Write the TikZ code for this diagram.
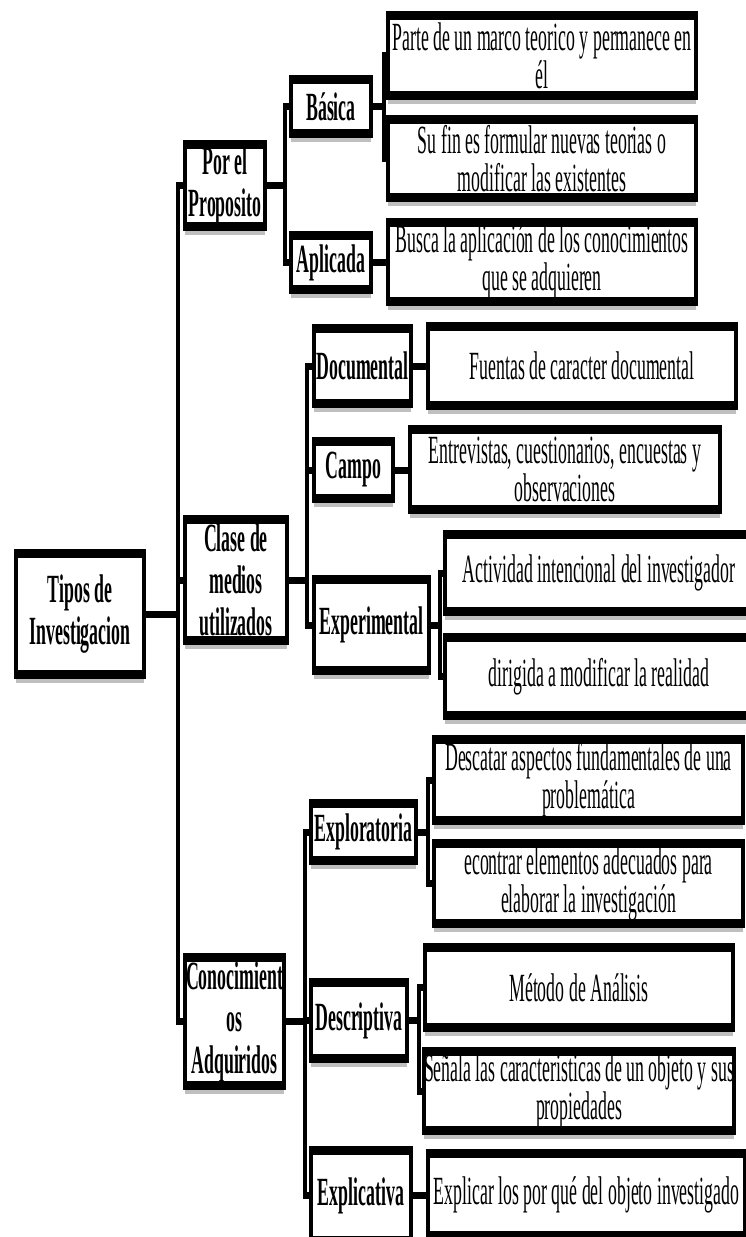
\documentclass[tikz,border=0pt]{standalone}
\usepackage{fontspec}
\setmainfont{Liberation Serif}
\usetikzlibrary{shadows}
\begin{document}
\begin{tikzpicture}[x=1pt,y=-1pt]
\useasboundingbox (0,0) rectangle (746,1237);
\clip (0,0) rectangle (746,1237);
% the whole chart is set in narrow type: everything is squeezed horizontally
\begin{scope}[transform canvas={xscale=0.445}, x=2.24719pt, y=-1pt,
  box/.style={draw=black, line width=9pt, fill=white, inner xsep=1pt, inner ysep=0pt,
    align=center, line join=miter,
    drop shadow={shadow xshift=0pt, shadow yshift=-8pt, opacity=0.25, fill=black}},
  sz/.style 2 args={minimum width={#1/0.445-9}, minimum height={#2-9}},
  cat/.style={box, font=\fontsize{40}{42}\selectfont\bfseries},
  leaf/.style={box, font=\fontsize{40}{38}\selectfont},
  conn/.style={line width=7pt, line join=miter}]

% root and first level
\node[cat, sz={132}{130}] (root)  at (80,614)     {Tipos de\\Investigacion};
\node[cat, sz={84}{91}]   (prop)  at (225,185.5)  {Por el\\Proposito};
\node[cat, sz={106}{130}] (clase) at (236,580)    {Clase de\\medios\\utilizados};
\node[cat, sz={103}{137}] (conoc) at (234.5,1021.5) {Conocimient\\os\\Adquiridos};

% second level
\node[cat, sz={84}{63}]   (basica) at (331,106.5)  {Básica};
\node[cat, sz={84}{63}]   (aplic)  at (331,262.5)  {Aplicada};
\node[cat, sz={101}{84}]  (docu)   at (362.5,366)  {Documental};
\node[cat, sz={83}{66}]   (campo)  at (353.5,470)  {Campo};
\node[cat, sz={119}{100}] (exper)  at (371.5,625)  {Experimental};
\node[cat, sz={109}{66}]  (explo)  at (363.5,832)  {Exploratoria};
\node[cat, sz={100}{85}]  (descr)  at (359,1020.5) {Descriptiva};
\node[cat, sz={104}{99}]  (expli)  at (361,1195.5) {Explicativa};

% descriptions
\node[leaf, sz={312}{89}] (l1)  at (542,55.5)   {Parte de un marco teorico y permanece en\\él};
\node[leaf, sz={312}{87}] (l2)  at (542,158.5)  {Su fin es formular nuevas teorias o\\modificar las existentes};
\node[leaf, sz={312}{88}] (l3)  at (542,262)    {Busca la aplicación de los conocimientos\\que se adquieren};
\node[leaf, sz={312}{88}] (l4)  at (582,366)    {Fuentas de caracter documental};
\node[leaf, sz={314}{89}] (l5)  at (565,469.5)  {Entrevistas, cuestionarios, encuestas y\\observaciones};
\node[leaf, sz={312}{86}] (l6)  at (599,573)    {Actividad intencional del investigador};
\node[leaf, sz={312}{87}] (l7)  at (599,676.5)  {dirigida a modificar la realidad};
\node[leaf, sz={313}{90}] (l8)  at (588.5,780)  {Descatar aspectos fundamentales de una\\problemática};
\node[leaf, sz={313}{89}] (l9)  at (588.5,883.5) {econtrar elementos adecuados para\\elaborar la investigación};
\node[leaf, sz={312}{89}] (l10) at (579,987.5)  {Método de Análisis};
\node[leaf, sz={312}{88}] (l11) at (579,1091)   {Señala las caracteristicas de un objeto y sus\\propiedades};
\node[leaf, sz={321}{91}] (l12) at (586.5,1194.5) {Explicar los por qué del objeto investigado};

% connectors
\draw[conn] (root.east) -- ++(32,0) coordinate (jr);
\draw[conn] (jr) |- (prop.west);
\draw[conn] (jr) |- (clase.west);
\draw[conn] (jr) |- (conoc.west);

\draw[conn] (prop.east) -- ++(18,0) coordinate (jp);
\draw[conn] (jp) |- (basica.west);
\draw[conn] (jp) |- (aplic.west);

\draw[conn] (basica.east) -- ++(11,0) coordinate (jb);
\draw[conn] (jb) |- (l1.west);
\draw[conn] (jb) |- (l2.west);
\draw[conn] (aplic.east) -- (aplic.east -| l3.west);

\draw[conn] (clase.east) -- ++(18,0) coordinate (jc);
\draw[conn] (jc) |- (docu.west);
\draw[conn] (jc) |- (campo.west);
\draw[conn] (jc) |- (exper.west);
\draw[conn] (docu.east) -- (docu.east -| l4.west);
\draw[conn] (campo.east) -- (campo.east -| l5.west);

\draw[conn] (exper.east) -- ++(9,0) coordinate (je);
\draw[conn] (je) |- (l6.west);
\draw[conn] (je) |- (l7.west);

\draw[conn] (conoc.east) -- ++(19,0) coordinate (jk);
\draw[conn] (jk) |- (explo.west);
\draw[conn] (jk) |- (descr.west);
\draw[conn] (jk) |- (expli.west);

\draw[conn] (explo.east) -- ++(10,0) coordinate (jx);
\draw[conn] (jx) |- (l8.west);
\draw[conn] (jx) |- (l9.west);

\draw[conn] (descr.east) -- ++(10,0) coordinate (jd);
\draw[conn] (jd) |- (l10.west);
\draw[conn] (jd) |- (l11.west);

\draw[conn] (expli.east) -- (expli.east -| l12.west);
\end{scope}
\end{tikzpicture}
\end{document}
